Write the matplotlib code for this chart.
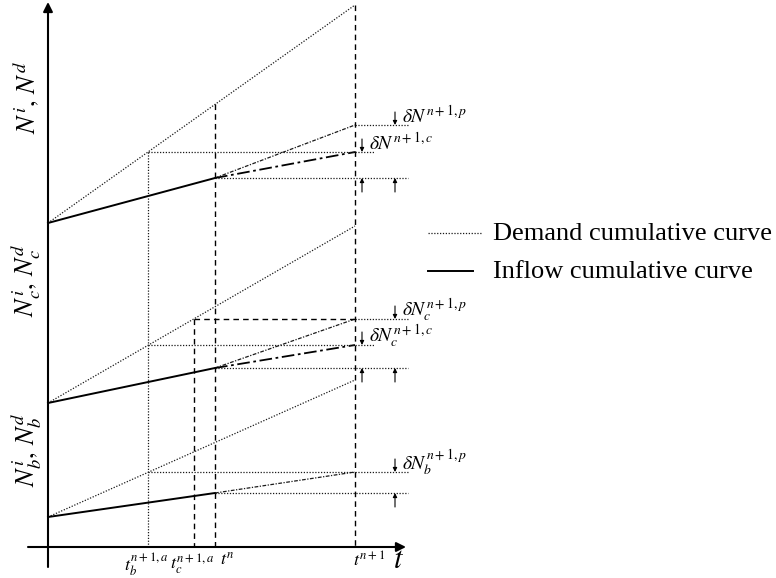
import matplotlib
matplotlib.use('Agg')
from matplotlib import pyplot as plt

plt.rcParams['font.family'] = ['Liberation Serif', 'DejaVu Serif']
plt.rcParams['mathtext.fontset'] = 'stix'

# time marks on the t axis
T_B = 100      # t_b^{n+1,a}
T_C = 146      # t_c^{n+1,a}
T_N = 167      # t^n
T_N1 = 307     # t^{n+1}

# one entry per panel (top: total, middle: c, bottom: b)
BASE = [324, 144, 30]            # curves start here at t = 0
DEMAND_END = [542, 321, 167]     # demand curve at t^{n+1}
INFLOW_TN = [369, 179, 54]       # inflow curve at t^n
PROJ_P = [422, 228, 75]          # projected inflow at t^{n+1}
PROJ_C = [395, 202, None]        # corrected inflow at t^{n+1}

Y_LABELS = [r'$N^i,\,N^d$', r'$N_c^i,\,N_c^d$', r'$N_b^i,\,N_b^d$']
Y_LABEL_POS = [450, 267, 97]
P_LABELS = [r'$\delta N^{n+1,p}$', r'$\delta N_c^{n+1,p}$', r'$\delta N_b^{n+1,p}$']
C_LABELS = [r'$\delta N^{n+1,c}$', r'$\delta N_c^{n+1,c}$', None]

TICK_LABELS = [r'$t_b^{n+1,a}$', r'$t_c^{n+1,a}$', r'$t^n$', r'$t^{n+1}$']

DOT = (0, (1, 1.3))
DASH = (0, (4, 3))
X_END = 360
X_END_C = 327
ARR_C = 314
ARR_P = 347


def demand_at(k, t):
    return BASE[k] + (DEMAND_END[k] - BASE[k]) * t / T_N1


def arrow(ax, x, y_to, y_from):
    ax.annotate('', xy=(x, y_to), xytext=(x, y_from),
                arrowprops=dict(arrowstyle='-|>', lw=0.8, color='black',
                                mutation_scale=6, shrinkA=0, shrinkB=0))


fig = plt.figure(figsize=(7.76, 5.78), dpi=100)
ax = fig.add_axes([0, 0, 1, 1])
ax.set_xlim(-48, 728)
ax.set_ylim(-31, 547)
ax.axis('off')

# axes with arrows
ax.annotate('', xy=(0, 545), xytext=(0, -20),
            arrowprops=dict(arrowstyle='-|>', lw=1.5, color='black', mutation_scale=14,
                            shrinkA=0, shrinkB=0))
ax.annotate('', xy=(358, 0), xytext=(-20, 0),
            arrowprops=dict(arrowstyle='-|>', lw=1.5, color='black', mutation_scale=14,
                            shrinkA=0, shrinkB=0))

for k in range(3):
    # demand and inflow curves
    ax.plot([0, T_N1], [BASE[k], DEMAND_END[k]], linestyle=DOT, lw=0.9, color='0.1')
    ax.plot([0, T_N], [BASE[k], INFLOW_TN[k]], color='black', lw=1.4)
    ax.plot([T_N, T_N1], [INFLOW_TN[k], PROJ_P[k]], linestyle=(0, (3, 1.2, 1, 1.2)),
            lw=0.9, color='0.1')
    if PROJ_C[k] is not None:
        ax.plot([T_N, T_N1], [INFLOW_TN[k], PROJ_C[k]], linestyle=(0, (7, 2, 1.5, 2)),
                lw=1.3, color='black')

    # reference levels
    ax.plot([T_N, X_END], [INFLOW_TN[k], INFLOW_TN[k]], linestyle=DOT, lw=0.9, color='0.1')
    if k == 2:
        ax.plot([T_B, X_END], [PROJ_P[k], PROJ_P[k]], linestyle=DOT, lw=0.9, color='0.1')
    else:
        ax.plot([T_N1, X_END], [PROJ_P[k], PROJ_P[k]], linestyle=DOT, lw=0.9, color='0.1')
        ax.plot([T_B, X_END_C], [PROJ_C[k], PROJ_C[k]], linestyle=DOT, lw=0.9, color='0.1')
    if k == 1:
        ax.plot([T_C, T_N1], [PROJ_P[k], PROJ_P[k]], linestyle=DASH, lw=1.0, color='black')

    # increments
    arrow(ax, ARR_P, PROJ_P[k], PROJ_P[k] + 13)
    arrow(ax, ARR_P, INFLOW_TN[k], INFLOW_TN[k] - 14)
    ax.text(ARR_P + 7, PROJ_P[k] + 9, P_LABELS[k], fontsize=14, ha='left', va='center')
    if PROJ_C[k] is not None:
        arrow(ax, ARR_C, PROJ_C[k], PROJ_C[k] + 13)
        arrow(ax, ARR_C, INFLOW_TN[k], INFLOW_TN[k] - 14)
        ax.text(ARR_C + 7, PROJ_C[k] + 9, C_LABELS[k], fontsize=14, ha='left', va='center')

    ax.text(-22, Y_LABEL_POS[k], Y_LABELS[k], fontsize=19, rotation=90,
            ha='center', va='center')

# vertical guides
ax.plot([T_B, T_B], [demand_at(0, T_B), 0], linestyle=DOT, lw=0.9, color='0.1')
ax.plot([T_N, T_N], [demand_at(0, T_N), 0], linestyle=DASH, lw=1.0, color='black')
ax.plot([T_C, T_C], [demand_at(1, T_C), 0], linestyle=DASH, lw=1.0, color='black')
ax.plot([T_N1, T_N1], [DEMAND_END[0], 0], linestyle=DASH, lw=1.0, color='black')

# t axis labels
ax.text(T_B - 2, -5, TICK_LABELS[0], fontsize=13, ha='center', va='top')
ax.text(T_C - 2, -5, TICK_LABELS[1], fontsize=13, ha='center', va='top')
ax.text(T_N + 5, -5, TICK_LABELS[2], fontsize=13, ha='left', va='top')
ax.text(T_N1 - 2, -5, TICK_LABELS[3], fontsize=13, ha='left', va='top')
ax.text(345, -13, r'$t$', fontsize=22, ha='left', va='center')

# legend
ax.plot([380, 434], [314, 314], linestyle=DOT, lw=0.9, color='0.1')
ax.plot([380, 425], [276, 276], color='black', lw=1.4)
ax.text(445, 313, 'Demand cumulative curve', fontsize=19, ha='left', va='center')
ax.text(445, 275, 'Inflow cumulative curve', fontsize=19, ha='left', va='center')

plt.savefig('out.png', dpi=100)
